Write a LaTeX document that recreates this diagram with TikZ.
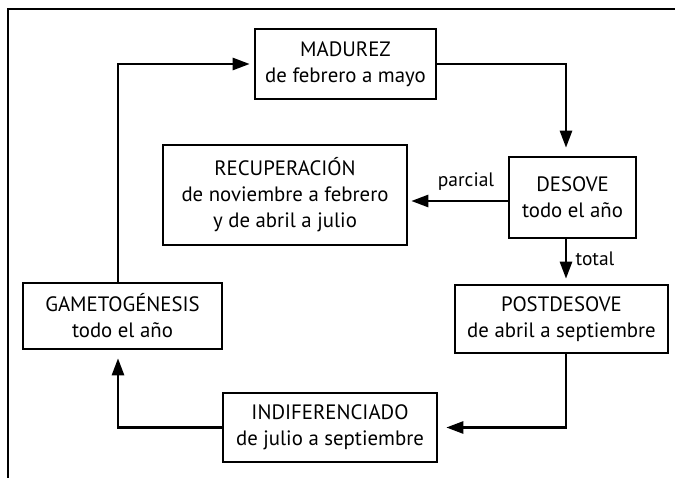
\documentclass[tikz,border=0pt]{standalone}
\usepackage{fontspec}
\setmainfont{PT Sans}
\usetikzlibrary{arrows.meta,calc}
\begin{document}
\begin{tikzpicture}[x=1pt,y=-1pt,
  box/.style={draw,line width=2.6pt,align=center,inner sep=0pt,font=\fontsize{20.8}{26}\selectfont},
  conn/.style={line width=2.6pt,-{Triangle[length=17pt,width=12pt]}},
  lbl/.style={font=\fontsize{19.5}{22}\selectfont,inner sep=0pt}]
\useasboundingbox (0,0) rectangle (675,478);
\draw[line width=2.4pt] (8,478) -- (8,9) -- (675,9);

\node[box,minimum width=181pt,minimum height=70pt] (mad) at (345.5,64) {MADUREZ\\de febrero a mayo};
\node[box,minimum width=127pt,minimum height=81pt] (des) at (572.5,197.5) {DESOVE\\todo el año};
\node[box,minimum width=244pt,minimum height=100pt] (rec) at (285,195) {RECUPERACIÓN\\de noviembre a febrero\\y de abril a julio};
\node[box,minimum width=213pt,minimum height=68pt] (post) at (561.5,319) {POSTDESOVE\\de abril a septiembre};
\node[box,minimum width=214pt,minimum height=69pt] (ind) at (330,427.5) {INDIFERENCIADO\\de julio a septiembre};
\node[box,minimum width=199pt,minimum height=66pt] (gam) at (122.5,316) {GAMETOGÉNESIS\\todo el año};

\node[lbl] (lp) at (466,182) {parcial};
\node[lbl] (lt) at (595,259) {total};

\coordinate (gt) at ([xshift=-4.5pt]gam.north);
\draw[conn,shorten >=4pt] (gt) |- (mad.west);
\coordinate (dt) at ([xshift=-6.5pt]des.north);
\draw[conn,shorten >=8pt] (mad.east) -| (dt);
\coordinate (pa) at ([yshift=-3.5pt]des.west);
\draw[conn,shorten >=3pt] (pa) -- (pa -| rec.east);
\coordinate (ta) at ([xshift=-6.5pt]des.south);
\draw[conn,shorten >=5pt] (ta) -- (ta |- post.north);
\coordinate (pb) at ([xshift=4.5pt]post.south);
\draw[conn,shorten >=8pt] (pb) |- (ind.east);
\coordinate (gb) at ([xshift=-4.5pt]gam.south);
\draw[conn,shorten >=8pt] (ind.west) -| (gb);
\end{tikzpicture}
\end{document}
